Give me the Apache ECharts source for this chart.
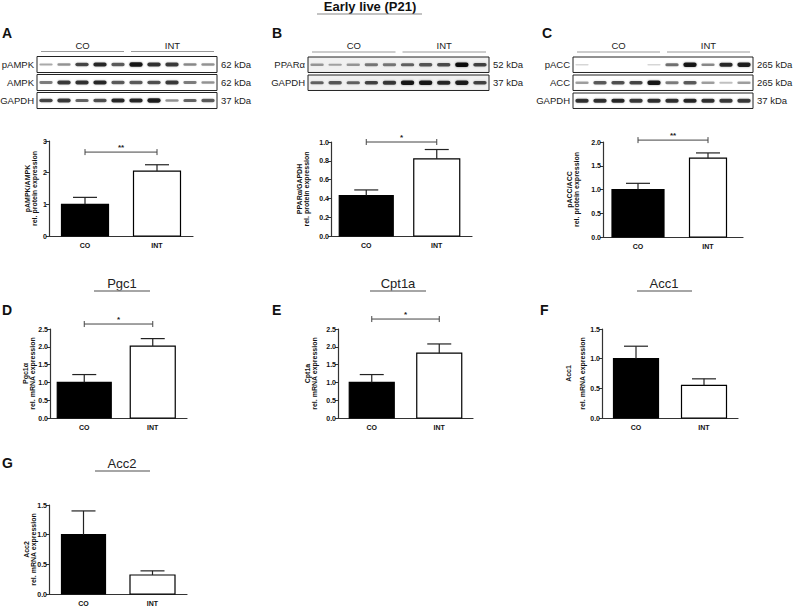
<!DOCTYPE html>
<html><head><meta charset="utf-8">
<script src="https://cdn.jsdelivr.net/npm/echarts@6/dist/echarts.min.js"></script>
<style>html,body{margin:0;padding:0;background:#fff}#c{width:793px;height:607px}</style>
</head><body><div id="c"></div>
<script>
// ---------- DATA ----------
const categories = ['CO', 'INT'];
// protein (western blot quantification)
const pAMPKmean = [1.00, 2.05], pAMPKsem = [0.22, 0.20];
const PPARamean = [0.43, 0.82], PPARasem = [0.06, 0.10];
const pACCmean  = [1.00, 1.66], pACCsem  = [0.13, 0.11];
// mRNA
const Pgc1mean  = [1.00, 2.02], Pgc1sem  = [0.22, 0.21];
const Cpt1amean = [1.00, 1.82], Cpt1asem = [0.22, 0.26];
const Acc1mean  = [1.00, 0.55], Acc1sem  = [0.21, 0.11];
const Acc2mean  = [1.00, 0.32], Acc2sem  = [0.40, 0.07];
// significance
const sigA = '**', sigB = '*', sigC = '**', sigD = '*', sigE = '*';
// y tick settings
const ticksA = [0, 3, 1], ticksB = [0, 1.0, 0.2], ticksC = [0, 2.0, 0.5];
const ticksD = [0, 2.5, 0.5], ticksE = [0, 2.5, 0.5], ticksF = [0, 1.5, 0.5], ticksG = [0, 1.5, 0.5];
// blots: band intensity per lane (5 CO + 5 INT)
const groups = ['CO', 'INT'];
const blotArows = ['pAMPK', 'AMPK', 'GAPDH'];
const blotAkda  = ['62 kDa', '62 kDa', '37 kDa'];
const bandA_pAMPK = [0.25, 0.35, 0.70, 0.85, 0.60, 0.95, 0.80, 0.75, 0.40, 0.35];
const bandA_AMPK  = [0.45, 0.75, 0.80, 0.85, 0.60, 0.60, 0.65, 0.75, 0.45, 0.35];
const bandA_GAPDH = [0.70, 0.75, 0.55, 0.65, 0.85, 0.85, 0.90, 0.35, 0.55, 0.60];
const blotBrows = ['PPAR\u03b1', 'GAPDH'];
const blotBkda  = ['52 kDa', '37 kDa'];
const bandB_PPARa = [0.30, 0.25, 0.30, 0.45, 0.45, 0.55, 0.60, 0.65, 1.00, 0.70];
const bandB_GAPDH = [0.55, 0.60, 0.55, 0.70, 0.75, 0.95, 0.95, 0.85, 0.90, 0.70];
const blotCrows = ['pACC', 'ACC', 'GAPDH'];
const blotCkda  = ['265 kDa', '265 kDa', '37 kDa'];
const bandC_pACC  = [0.05, 0.00, 0.00, 0.00, 0.05, 0.50, 0.95, 0.40, 0.85, 0.90];
const bandC_ACC   = [0.30, 0.60, 0.65, 0.70, 0.95, 0.45, 0.60, 0.30, 0.15, 0.30];
const bandC_GAPDH = [0.80, 0.80, 0.85, 0.75, 0.80, 0.80, 0.85, 0.80, 0.75, 0.75];

// ---------- LAYOUT / STYLE ----------
const FONT = 'Liberation Sans, Arial, sans-serif';
const AX = '#333';
const panels = [
  {grid:{left:49, top:141, width:144, height:95}, mean:pAMPKmean, sem:pAMPKsem, ticks:ticksA, dec:0,
   name:'pAMPK/AMPK\nrel. protein expression', gap:11, widths:[47,47], sig:sigA, sigY:2.65},
  {grid:{left:331, top:142, width:141, height:94}, mean:PPARamean, sem:PPARasem, ticks:ticksB, dec:1,
   name:'PPAR\u03b1/GAPDH\nrel. protein expression', gap:21, widths:[54,46], sig:sigB, sigY:1.0},
  {grid:{left:603, top:142, width:140, height:95}, mean:pACCmean, sem:pACCsem, ticks:ticksC, dec:1,
   name:'pACC/ACC\nrel. protein expression', gap:23, widths:[52,37], sig:sigC, sigY:2.04},
  {grid:{left:50, top:329, width:137, height:89}, mean:Pgc1mean, sem:Pgc1sem, ticks:ticksD, dec:1,
   name:'Pgc1\u03b1\nrel. mRNA expression', gap:14, widths:[54,45], sig:sigD, sigY:2.64},
  {grid:{left:338, top:329, width:135, height:89}, mean:Cpt1amean, sem:Cpt1asem, ticks:ticksE, dec:1,
   name:'Cpt1a\nrel. mRNA expression', gap:20, widths:[45,45], sig:sigE, sigY:2.78},
  {grid:{left:602, top:329, width:136, height:89}, mean:Acc1mean, sem:Acc1sem, ticks:ticksF, dec:1,
   name:'Acc1\n\nrel. mRNA expression', gap:16, widths:[45,45], sig:null},
  {grid:{left:49, top:505, width:138, height:91}, mean:Acc2mean, sem:Acc2sem, ticks:ticksG, dec:1,
   name:'Acc2\nrel. mRNA expression', gap:12, widths:[44,45], sig:null}
];
const blots = [
  {grid:{left:37, top:56.5, width:180, height:54}, rows:blotArows, kda:blotAkda,
   bands:[bandA_pAMPK, bandA_AMPK, bandA_GAPDH], boxFrac:0.89, bg:'#fff'},
  {grid:{left:308, top:57, width:181, height:36}, rows:blotBrows, kda:blotBkda,
   bands:[bandB_PPARa, bandB_GAPDH], boxFrac:0.86, bg:'#f1f1f1'},
  {grid:{left:573, top:57, width:180, height:54}, rows:blotCrows, kda:blotCkda,
   bands:[bandC_pACC, bandC_ACC, bandC_GAPDH], boxFrac:0.86, bg:'#fff'}
];

const grids = [], xAxes = [], yAxes = [], series = [];

panels.forEach((p, k) => {
  grids.push(p.grid);
  xAxes.push({gridIndex:k, type:'category', data:categories, boundaryGap:true,
    axisLine:{lineStyle:{color:AX, width:1.2}}, axisTick:{show:false},
    axisLabel:{fontFamily:FONT, fontSize:7, fontWeight:'bold', color:'#111', margin:6}});
  yAxes.push({gridIndex:k, type:'value', min:p.ticks[0], max:p.ticks[1], interval:p.ticks[2],
    axisLine:{show:true, lineStyle:{color:AX, width:1.2}},
    axisTick:{show:true, length:3, lineStyle:{color:AX}},
    splitLine:{show:false},
    axisLabel:{fontFamily:FONT, fontSize:7, fontWeight:'bold', color:'#111', margin:2,
      formatter: v => v.toFixed(p.dec)},
    name:p.name, nameLocation:'middle', nameRotate:90, nameGap:p.gap, nameMoveOverlap:false,
    nameTextStyle:{fontFamily:FONT, fontSize:7, fontWeight:'bold', color:'#111', lineHeight:7}});
  // bars
  series.push({type:'custom', xAxisIndex:k, yAxisIndex:k,
    data: categories.map((c, i) => [i, p.mean[i]]),
    renderItem: (params, api) => {
      const i = api.value(0), v = api.value(1);
      const t = api.coord([i, v]), b = api.coord([i, 0]);
      const w = p.widths[i];
      return {type:'rect', shape:{x:t[0]-w/2, y:t[1], width:w, height:b[1]-t[1]},
        style:{fill: i === 0 ? '#000' : '#fff', stroke:'#000', lineWidth:1.2}};
    }});
  // error bars (mean + SEM)
  series.push({type:'custom', xAxisIndex:k, yAxisIndex:k,
    data: categories.map((c, i) => [i, p.mean[i], p.mean[i] + p.sem[i]]),
    renderItem: (params, api) => {
      const i = api.value(0);
      const a = api.coord([i, api.value(1)]), b = api.coord([i, api.value(2)]);
      const cw = 12;
      return {type:'group', children:[
        {type:'line', shape:{x1:a[0], y1:a[1], x2:b[0], y2:b[1]}, style:{stroke:'#222', lineWidth:1.2}},
        {type:'line', shape:{x1:b[0]-cw, y1:b[1], x2:b[0]+cw, y2:b[1]}, style:{stroke:'#222', lineWidth:1.2}}
      ]};
    }});
  if (p.sig) {
    series.push({type:'custom', xAxisIndex:k, yAxisIndex:k,
      data: [[0, 1, p.sigY]],
      renderItem: (params, api) => {
        const a = api.coord([api.value(0), api.value(2)]), b = api.coord([api.value(1), api.value(2)]);
        return {type:'group', children:[
          {type:'line', shape:{x1:a[0], y1:a[1], x2:b[0], y2:b[1]}, style:{stroke:'#444', lineWidth:1}},
          {type:'line', shape:{x1:a[0], y1:a[1]-3, x2:a[0], y2:a[1]+3}, style:{stroke:'#444', lineWidth:1}},
          {type:'line', shape:{x1:b[0], y1:b[1]-3, x2:b[0], y2:b[1]+3}, style:{stroke:'#444', lineWidth:1}},
          {type:'text', style:{text:p.sig, x:(a[0]+b[0])/2, y:a[1]-1, align:'center', verticalAlign:'bottom',
            font:'bold 8px ' + FONT, fill:'#222'}}
        ]};
      }});
  }
});

blots.forEach((bl, j) => {
  const k = panels.length + j;
  const n = bl.rows.length;
  grids.push(bl.grid);
  xAxes.push({gridIndex:k, type:'value', min:0, max:10, show:false});
  yAxes.push({gridIndex:k, type:'value', min:0, max:n, inverse:true, show:false});
  // row boxes + labels
  series.push({type:'custom', xAxisIndex:k, yAxisIndex:k, z:1,
    data: bl.rows.map((r, i) => [i, r, bl.kda[i]]),
    renderItem: (params, api) => {
      const i = api.value(0);
      const p0 = api.coord([0, i]), p1 = api.coord([10, i + bl.boxFrac]);
      const cy = (p0[1] + p1[1]) / 2;
      return {type:'group', children:[
        {type:'rect', shape:{x:p0[0], y:p0[1], width:p1[0]-p0[0], height:p1[1]-p0[1]},
          style:{fill:bl.bg, stroke:'#222', lineWidth:1}},
        {type:'text', style:{text:bl.rows[i], x:p0[0]-3, y:cy, align:'right', verticalAlign:'middle',
          font:'9.5px ' + FONT, fill:'#222'}},
        {type:'text', style:{text:bl.kda[i], x:p1[0]+4, y:cy, align:'left', verticalAlign:'middle',
          font:'9.5px ' + FONT, fill:'#222'}}
      ]};
    }});
  // bands
  const bandData = [];
  bl.bands.forEach((row, r) => row.forEach((v, l) => bandData.push([l, r, v])));
  series.push({type:'custom', xAxisIndex:k, yAxisIndex:k, z:2,
    data: bandData,
    renderItem: (params, api) => {
      const l = api.value(0), r = api.value(1), v = api.value(2);
      if (v <= 0.02) return null;
      const c = api.coord([l + 0.5, r + bl.boxFrac / 2]);
      const lw = api.coord([l + 1, 0])[0] - api.coord([l, 0])[0];
      const w = lw * 0.74, h = 1.4 + 3.2 * v;
      return {type:'rect', shape:{x:c[0]-w/2, y:c[1]-h/2, width:w, height:h, r:h/2},
        style:{fill:'rgba(0,0,0,' + (0.12 + 0.8 * v).toFixed(2) + ')',
          shadowBlur:2.5, shadowColor:'rgba(0,0,0,' + (0.45 * v).toFixed(2) + ')'}};
    }});
  // group headers
  series.push({type:'custom', xAxisIndex:k, yAxisIndex:k,
    data: groups.map((g, i) => [i * 5, i * 5 + 5, g]),
    renderItem: (params, api) => {
      const i = params.dataIndex;
      const a = api.coord([api.value(0), 0]), b = api.coord([api.value(1), 0]);
      const x0 = a[0] + 4, x1 = b[0] - 3, y = a[1] - 5;
      return {type:'group', children:[
        {type:'line', shape:{x1:x0, y1:y, x2:x1, y2:y}, style:{stroke:'#999', lineWidth:1}},
        {type:'text', style:{text:groups[i], x:(x0+x1)/2, y:y-1.5, align:'center', verticalAlign:'bottom',
          font:'9.5px ' + FONT, fill:'#222'}}
      ]};
    }});
});

// ---------- TITLES / LETTERS ----------
const letters = [['A',2,26],['B',272,26],['C',542,26],['D',2,303],['E',272,303],['F',540,303],['G',2,456]];
const geneTitles = [['Pgc1',122,283,94,150],['Cpt1a',398,283,370,426],['Acc1',664,283,637,692],['Acc2',122,463,95,150]];
const graphic = [];
letters.forEach(l => graphic.push({type:'text', left:l[1], top:l[2],
  style:{text:l[0], font:'bold 14px ' + FONT, fill:'#111'}}));
geneTitles.forEach(t => {
  graphic.push({type:'text', x:t[1], y:t[2], style:{text:t[0], font:'13px ' + FONT, fill:'#222', align:'center', verticalAlign:'middle'}});
  graphic.push({type:'line', shape:{x1:t[3], y1:t[2]+8, x2:t[4], y2:t[2]+8}, style:{stroke:'#888', lineWidth:1.5}});
});
graphic.push({type:'text', x:370, y:6, style:{text:'Early live (P21)', font:'bold 13px ' + FONT, fill:'#111', align:'center', verticalAlign:'middle'}});
graphic.push({type:'line', shape:{x1:317, y1:14, x2:422, y2:14}, style:{stroke:'#888', lineWidth:1.2}});

const chart = echarts.init(document.getElementById('c'), null, {renderer:'svg'});
chart.setOption({animation:false, backgroundColor:'#fff', grid:grids, xAxis:xAxes, yAxis:yAxes, series:series, graphic:graphic});
</script></body></html>
